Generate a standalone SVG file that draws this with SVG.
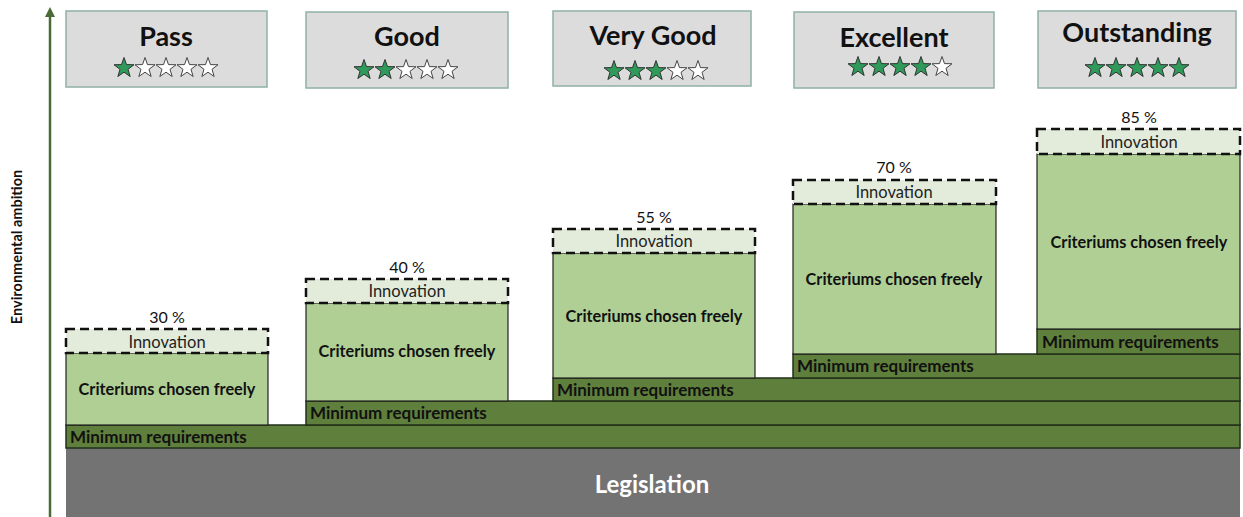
<svg xmlns="http://www.w3.org/2000/svg" width="1243" height="517" viewBox="0 0 1243 517">
  <defs>
    <style>
      text { font-family: "Lato", "Open Sans", "Liberation Sans", sans-serif; fill: #111; }
      .rating { fill: #dcdcdc; stroke: #8fb0a8; stroke-width: 1.5; }
      .title { font-size: 27px; font-weight: 700; text-anchor: middle; }
      .innov { fill: #e3ecdb; stroke: #111; stroke-width: 2.5; stroke-dasharray: 9 5; }
      .innov-t { font-size: 16.5px; text-anchor: middle; fill: #222; }
      .free { fill: #b0cf95; stroke: #222; stroke-width: 1.2; }
      .free-t { font-size: 16.3px; font-weight: 700; text-anchor: middle; }
      .minreq { fill: #5f7f3c; stroke: #22301a; stroke-width: 1.5; }
      .minreq-t { font-size: 17px; font-weight: 700; fill: #111; }
      .pct { font-size: 16px; text-anchor: middle; }
      .legis { fill: #737373; }
      .legis-t { font-size: 24px; font-weight: 700; fill: #fff; text-anchor: middle; }
      .axis-t { font-size: 14.5px; font-weight: 700; text-anchor: middle; }
    </style>
    <path id="star-shape" d="M0,-10.5 L2.47,-3.4 L10,-3.24 L4,1.3 L6.17,8.5 L0,4.2 L-6.17,8.5 L-4,1.3 L-10,-3.24 L-2.47,-3.4 Z"/>
    <use id="star-on" href="#star-shape" fill="#2f9a5a" stroke="#333" stroke-width="1"/>
    <use id="star-off" href="#star-shape" fill="#fff" stroke="#444" stroke-width="1"/>
    <marker id="arrow" viewBox="0 0 10 10" refX="5" refY="5" markerWidth="4" markerHeight="4" orient="auto">
      <path d="M0,0 L10,5 L0,10 Z" fill="#4a6b35"/>
    </marker>
  </defs>

  <!-- base layer -->
  <g id="legislation">
    <rect class="legis" x="66" y="448" width="1174" height="69"/>
    <text class="legis-t" x="652" y="493">Legislation</text>
  </g>

  <!-- stacked minimum-requirement bars -->
  <g id="minreq-1">
    <rect class="minreq" x="66" y="425" width="1174" height="23"/>
    <text class="minreq-t" x="70" y="443">Minimum requirements</text>
  </g>
  <g id="minreq-2">
    <rect class="minreq" x="306" y="401" width="934" height="24"/>
    <text class="minreq-t" x="310" y="419">Minimum requirements</text>
  </g>
  <g id="minreq-3">
    <rect class="minreq" x="553" y="378" width="687" height="23"/>
    <text class="minreq-t" x="557" y="396">Minimum requirements</text>
  </g>
  <g id="minreq-4">
    <rect class="minreq" x="793" y="354" width="447" height="24"/>
    <text class="minreq-t" x="797" y="372">Minimum requirements</text>
  </g>
  <g id="minreq-5">
    <rect class="minreq" x="1037" y="329" width="203" height="25"/>
    <text class="minreq-t" x="1042" y="348">Minimum requirements</text>
  </g>

  <!-- Pass column -->
  <g id="col-pass">
    <rect class="free" x="66" y="353" width="202" height="72"/>
    <text class="free-t" x="167" y="395">Criteriums chosen freely</text>
    <rect class="innov" x="66" y="329" width="202" height="24"/>
    <text class="innov-t" x="167" y="348">Innovation</text>
    <text class="pct" x="167" y="323">30 %</text>
  </g>

  <!-- Good column -->
  <g id="col-good">
    <rect class="free" x="306" y="303" width="202" height="98"/>
    <text class="free-t" x="407" y="357">Criteriums chosen freely</text>
    <rect class="innov" x="306" y="279" width="202" height="24"/>
    <text class="innov-t" x="407" y="297">Innovation</text>
    <text class="pct" x="407" y="273">40 %</text>
  </g>

  <!-- Very Good column -->
  <g id="col-verygood">
    <rect class="free" x="553" y="253" width="202" height="125"/>
    <text class="free-t" x="654" y="322">Criteriums chosen freely</text>
    <rect class="innov" x="553" y="229" width="202" height="24"/>
    <text class="innov-t" x="654" y="247">Innovation</text>
    <text class="pct" x="654" y="223">55 %</text>
  </g>

  <!-- Excellent column -->
  <g id="col-excellent">
    <rect class="free" x="793" y="204" width="203" height="150"/>
    <text class="free-t" x="894" y="285">Criteriums chosen freely</text>
    <rect class="innov" x="793" y="180" width="203" height="24"/>
    <text class="innov-t" x="894" y="198">Innovation</text>
    <text class="pct" x="894" y="173">70 %</text>
  </g>

  <!-- Outstanding column -->
  <g id="col-outstanding">
    <rect class="free" x="1037" y="154" width="203" height="175"/>
    <text class="free-t" x="1139" y="248">Criteriums chosen freely</text>
    <rect class="innov" x="1037" y="129" width="203" height="25"/>
    <text class="innov-t" x="1139" y="148">Innovation</text>
    <text class="pct" x="1139" y="123">85 %</text>
  </g>

  <!-- rating headers -->
  <g id="rating-pass">
    <rect class="rating" x="66" y="11" width="201" height="76"/>
    <text class="title" x="166" y="46">Pass</text>
    <use href="#star-on" x="124" y="68"/>
    <use href="#star-off" x="145" y="68"/>
    <use href="#star-off" x="166" y="68"/>
    <use href="#star-off" x="187" y="68"/>
    <use href="#star-off" x="208" y="68"/>
  </g>
  <g id="rating-good">
    <rect class="rating" x="306" y="12" width="202" height="76"/>
    <text class="title" x="407" y="46">Good</text>
    <use href="#star-on" x="364" y="70"/>
    <use href="#star-on" x="385" y="70"/>
    <use href="#star-off" x="406" y="70"/>
    <use href="#star-off" x="427" y="70"/>
    <use href="#star-off" x="448" y="70"/>
  </g>
  <g id="rating-verygood">
    <rect class="rating" x="553" y="11" width="198" height="75"/>
    <text class="title" x="653" y="45">Very Good</text>
    <use href="#star-on" x="614" y="71"/>
    <use href="#star-on" x="635" y="71"/>
    <use href="#star-on" x="656" y="71"/>
    <use href="#star-off" x="677" y="71"/>
    <use href="#star-off" x="698" y="71"/>
  </g>
  <g id="rating-excellent">
    <rect class="rating" x="794" y="12" width="200" height="76"/>
    <text class="title" x="894" y="47">Excellent</text>
    <use href="#star-on" x="858" y="67"/>
    <use href="#star-on" x="879" y="67"/>
    <use href="#star-on" x="900" y="67"/>
    <use href="#star-on" x="921" y="67"/>
    <use href="#star-off" x="942" y="67"/>
  </g>
  <g id="rating-outstanding">
    <rect class="rating" x="1038" y="11" width="198" height="77"/>
    <text class="title" x="1137" y="42">Outstanding</text>
    <use href="#star-on" x="1095" y="68"/>
    <use href="#star-on" x="1116" y="68"/>
    <use href="#star-on" x="1137" y="68"/>
    <use href="#star-on" x="1158" y="68"/>
    <use href="#star-on" x="1179" y="68"/>
  </g>

  <!-- vertical ambition axis -->
  <g id="connectors">
    <line x1="50" y1="517" x2="50" y2="12" stroke="#4a6b35" stroke-width="2.5" marker-end="url(#arrow)"/>
  </g>
  <g id="axis-label">
    <text class="axis-t" transform="translate(22,247) rotate(-90)">Environmental ambition</text>
  </g>
</svg>
